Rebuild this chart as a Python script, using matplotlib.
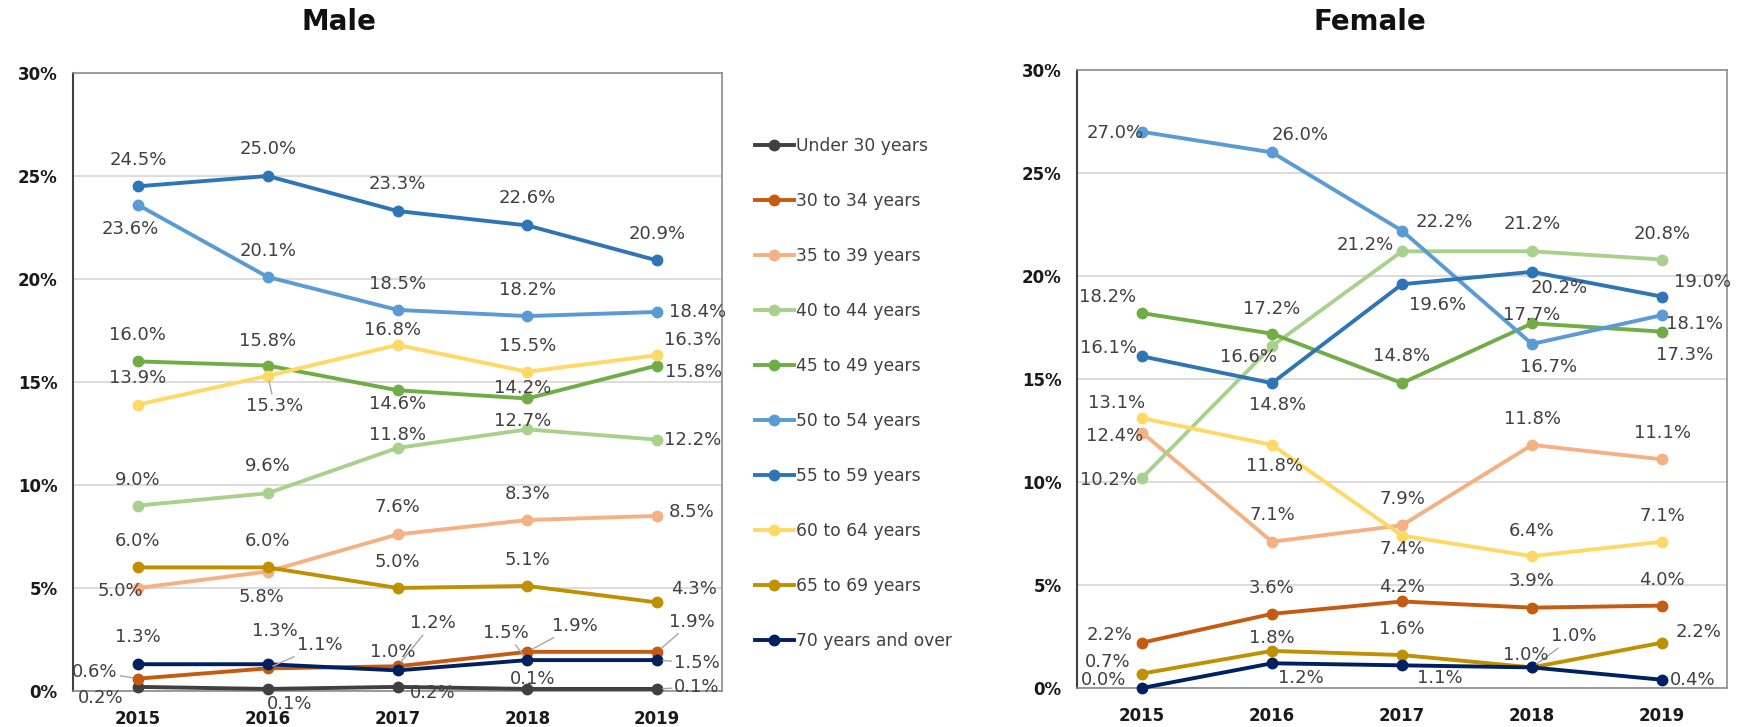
import matplotlib
matplotlib.use("Agg")
import matplotlib.pyplot as plt
from matplotlib.lines import Line2D

# ---- data -------------------------------------------------------------
years = ["2015", "2016", "2017", "2018", "2019"]

age_groups = [
    "Under 30 years", "30 to 34 years", "35 to 39 years", "40 to 44 years",
    "45 to 49 years", "50 to 54 years", "55 to 59 years", "60 to 64 years",
    "65 to 69 years", "70 years and over",
]

# Male share by age group (%)
male_under30 = [0.2, 0.1, 0.2, 0.1, 0.1]
male_30_34 = [0.6, 1.1, 1.2, 1.9, 1.9]
male_35_39 = [5.0, 5.8, 7.6, 8.3, 8.5]
male_40_44 = [9.0, 9.6, 11.8, 12.7, 12.2]
male_45_49 = [16.0, 15.8, 14.6, 14.2, 15.8]
male_50_54 = [23.6, 20.1, 18.5, 18.2, 18.4]
male_55_59 = [24.5, 25.0, 23.3, 22.6, 20.9]
male_60_64 = [13.9, 15.3, 16.8, 15.5, 16.3]
male_65_69 = [6.0, 6.0, 5.0, 5.1, 4.3]
male_70_over = [1.3, 1.3, 1.0, 1.5, 1.5]

# Female share by age group (%)
female_30_34 = [2.2, 3.6, 4.2, 3.9, 4.0]
female_35_39 = [12.4, 7.1, 7.9, 11.8, 11.1]
female_40_44 = [10.2, 16.6, 21.2, 21.2, 20.8]
female_45_49 = [18.2, 17.2, 14.8, 17.7, 17.3]
female_50_54 = [27.0, 26.0, 22.2, 16.7, 18.1]
female_55_59 = [16.1, 14.8, 19.6, 20.2, 19.0]
female_60_64 = [13.1, 11.8, 7.4, 6.4, 7.1]
female_65_69 = [0.7, 1.8, 1.6, 1.0, 2.2]
female_70_over = [0.0, 1.2, 1.1, 1.0, 0.4]

male_series = {
    "Under 30 years": male_under30,
    "30 to 34 years": male_30_34,
    "35 to 39 years": male_35_39,
    "40 to 44 years": male_40_44,
    "45 to 49 years": male_45_49,
    "50 to 54 years": male_50_54,
    "55 to 59 years": male_55_59,
    "60 to 64 years": male_60_64,
    "65 to 69 years": male_65_69,
    "70 years and over": male_70_over,
}
female_series = {
    "30 to 34 years": female_30_34,
    "35 to 39 years": female_35_39,
    "40 to 44 years": female_40_44,
    "45 to 49 years": female_45_49,
    "50 to 54 years": female_50_54,
    "55 to 59 years": female_55_59,
    "60 to 64 years": female_60_64,
    "65 to 69 years": female_65_69,
    "70 years and over": female_70_over,
}

# ---- styling ----------------------------------------------------------
colors = {
    "Under 30 years": "#404040",
    "30 to 34 years": "#C55A11",
    "35 to 39 years": "#F4B183",
    "40 to 44 years": "#A9D18E",
    "45 to 49 years": "#70AD47",
    "50 to 54 years": "#5B9BD5",
    "55 to 59 years": "#2E75B6",
    "60 to 64 years": "#FFD966",
    "65 to 69 years": "#BF9000",
    "70 years and over": "#002060",
}

# label offsets in pixels (dx, dy), one per year
male_offsets = {
    "Under 30 years": [(-37, -11), (22, -15), (35, -6), (5, 10), (40, 2)],
    "30 to 34 years": [(-43, 7), (52, 23), (35, 43), (48, 26), (35, 30)],
    "35 to 39 years": [(-18, -3), (-6, -25), (0, 27), (0, 26), (35, 4)],
    "40 to 44 years": [(0, 26), (0, 27), (0, 13), (-5, 8), (36, 0)],
    "45 to 49 years": [(0, 26), (0, 25), (0, -14), (-5, 10), (36, -6)],
    "50 to 54 years": [(-8, -24), (0, 26), (0, 26), (0, 26), (40, 0)],
    "55 to 59 years": [(0, 26), (0, 27), (0, 27), (0, 27), (0, 26)],
    "60 to 64 years": [(0, 27), (7, -30), (-5, 15), (0, 26), (35, 15)],
    "65 to 69 years": [(0, 26), (0, 26), (0, 26), (0, 26), (37, 13)],
    "70 years and over": [(0, 27), (7, 33), (-5, 18), (-21, 27), (40, -3)],
}
male_leaders = {
    ("30 to 34 years", 0), ("30 to 34 years", 1), ("30 to 34 years", 2),
    ("30 to 34 years", 3), ("30 to 34 years", 4),
    ("70 years and over", 3), ("70 years and over", 4),
    ("Under 30 years", 4), ("60 to 64 years", 1),
}

female_offsets = {
    "30 to 34 years": [(-32, 8), (0, 26), (0, 14), (0, 27), (0, 26)],
    "35 to 39 years": [(-27, -3), (0, 27), (0, 26), (0, 26), (0, 26)],
    "40 to 44 years": [(-34, -2), (-23, -11), (-37, 6), (0, 27), (0, 26)],
    "45 to 49 years": [(-34, 16), (0, 25), (0, 27), (0, 8), (23, -23)],
    "50 to 54 years": [(-27, -1), (28, 17), (42, 9), (17, -23), (33, -9)],
    "55 to 59 years": [(-34, 8), (6, -22), (36, -21), (27, -16), (41, 15)],
    "60 to 64 years": [(-25, 15), (3, -21), (0, -13), (0, 25), (0, 26)],
    "65 to 69 years": [(-34, 12), (0, 13), (0, 26), (42, 31), (37, 11)],
    "70 years and over": [(-38, 8), (29, -15), (38, -13), (-6, 12), (31, 0)],
}
female_leaders = {("65 to 69 years", 3)}

LABEL_COLOR = "#404040"
LEADER_COLOR = "#a6a6a6"
LINE_W = 2.8
MARK_S = 7.5

fig = plt.figure(figsize=(17.43, 7.27), dpi=100)
fig.patch.set_facecolor("white")

ax_m = fig.add_axes([73 / 1743, 36 / 727, 649 / 1743, 618 / 727])
ax_f = fig.add_axes([1077 / 1743, 39 / 727, 650 / 1743, 618 / 727])


def draw_panel(ax, series, offsets, leaders):
    xs = list(range(len(years)))
    for name, vals in series.items():
        ax.plot(xs, vals, color=colors[name], lw=LINE_W, marker="o",
                ms=MARK_S, clip_on=False, zorder=3,
                solid_capstyle="round", solid_joinstyle="round")
        for i, v in enumerate(vals):
            dx, dy = offsets[name][i]
            arrow = None
            if (name, i) in leaders:
                arrow = dict(arrowstyle="-", color=LEADER_COLOR, lw=1.0,
                             shrinkA=0, shrinkB=4)
            ax.annotate(f"{v:.1f}%", (i, v), xytext=(dx, dy),
                        textcoords="offset pixels", ha="center", va="center",
                        fontsize=13, color=LABEL_COLOR, zorder=6,
                        annotation_clip=False, arrowprops=arrow)

    ax.set_xlim(-0.5, len(years) - 0.5)
    ax.set_ylim(0, 30)
    ax.set_xticks(xs)
    ax.set_xticklabels(years, fontsize=12, fontweight="bold", color="#1a1a1a")
    ax.set_yticks(range(0, 31, 5))
    ax.set_yticklabels([f"{t}%" for t in range(0, 31, 5)], fontsize=12,
                       fontweight="bold", color="#1a1a1a")
    ax.tick_params(axis="both", length=0)
    ax.tick_params(axis="x", pad=14)
    ax.tick_params(axis="y", pad=11)
    ax.grid(axis="y", color="#d9d9d9", lw=1.3)
    ax.set_axisbelow(True)
    for side in ("top", "right", "bottom"):
        ax.spines[side].set_color("#8c8c8c")
        ax.spines[side].set_linewidth(1.2)
    ax.spines["left"].set_color("#404040")
    ax.spines["left"].set_linewidth(1.5)


draw_panel(ax_m, male_series, male_offsets, male_leaders)
draw_panel(ax_f, female_series, female_offsets, female_leaders)

fig.text(339 / 1743, 1 - 22 / 727, "Male", ha="center", va="center",
         fontsize=20, fontweight="bold", color="#111111")
fig.text(1370 / 1743, 1 - 22 / 727, "Female", ha="center", va="center",
         fontsize=20, fontweight="bold", color="#111111")

handles = [Line2D([], [], color=colors[g], lw=LINE_W, marker="o", ms=MARK_S)
           for g in age_groups]
fig.legend(handles, age_groups, loc="upper left",
           bbox_to_anchor=(748 / 1743, 1 - 130 / 727), frameon=False,
           fontsize=12.3, handlelength=2.3, handletextpad=0.12,
           labelspacing=2.17, labelcolor=LABEL_COLOR, borderaxespad=0)

fig.savefig("out.png", dpi=100, facecolor="white")
